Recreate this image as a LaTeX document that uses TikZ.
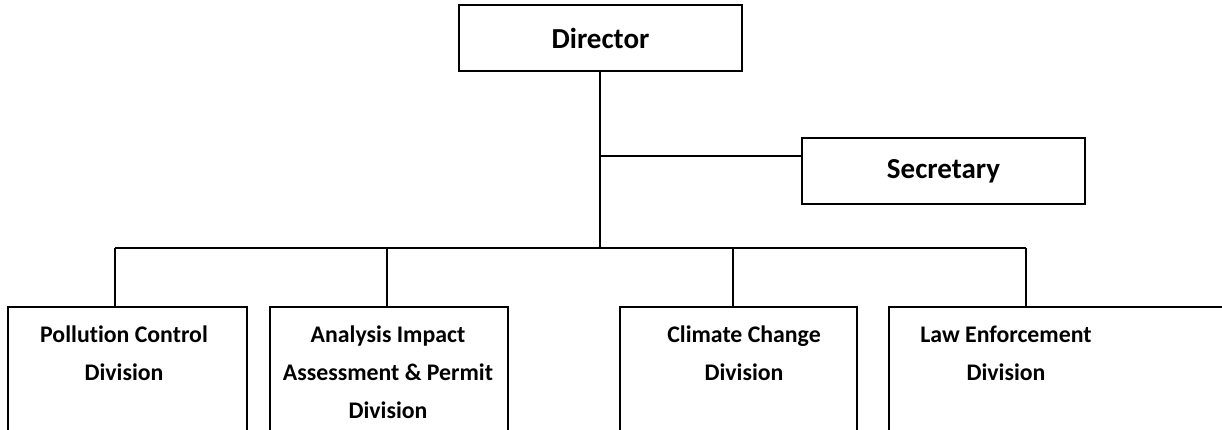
\documentclass[tikz,border=0pt]{standalone}
\usepackage{fontspec}
\setmainfont{Carlito}[Ligatures=NoCommon]
\usetikzlibrary{calc}
\tikzset{
  box/.style={draw=black, line width=2pt, rectangle, inner sep=0pt, fill=white},
  lbl/.style={align=center, inner sep=0pt, font=\bfseries\fontsize{29}{38}\selectfont},
  dlbl/.style={align=center, inner sep=0pt, font=\bfseries\fontsize{23.8}{38}\selectfont},
  conn/.style={draw=black, line width=2pt}
}
\begin{document}
\begin{tikzpicture}[x=1pt,y=-1pt]
\useasboundingbox (0,0) rectangle (1222,430);
\clip (0,0) rectangle (1222,430);
% top boxes
\node[box, lbl, minimum width=283pt, minimum height=66pt] (dir) at (600.5,38) {Director};
\node[box, lbl, minimum width=283pt, minimum height=66pt] (sec) at (943.5,171) {Secretary};
% division boxes (bottom cut off by the page edge)
\node[box, minimum width=239pt, minimum height=160pt, anchor=north west] (b1) at (7,306) {};
\node[box, minimum width=238pt, minimum height=160pt, anchor=north west] (b2) at (269,306) {};
\node[box, minimum width=237pt, minimum height=160pt, anchor=north west] (b3) at (619,306) {};
\node[box, minimum width=360pt, minimum height=160pt, anchor=north west] (b4) at (888,306) {};
% labels (base anchor = baseline of the last line)
\node[dlbl, anchor=base] (t1) at (124,380) {Pollution Control\\Division};
\node[dlbl, anchor=base] (t2) at (388,418) {Analysis Impact\\Assessment \& Permit\\Division};
\node[dlbl, anchor=base] (t3) at (744,380) {Climate Change\\Division};
\node[dlbl, anchor=base] (t4) at (1006,380) {Law Enforcement\\Division};
% connectors
\coordinate (bus) at (600,248);
\coordinate (junc) at (600,156);
\coordinate (bl) at (115,248);
\coordinate (br) at (1026,248);
\draw[conn] (dir.south -| bus) -- (bus);
\draw[conn] (junc) -- (junc -| sec.west);
\draw[conn] (bl) -- (br);
\draw[conn] (bl) -- (bl |- b1.north);
\draw[conn] (387,248) coordinate (d2) -- (d2 |- b2.north);
\draw[conn] (733,248) coordinate (d3) -- (d3 |- b3.north);
\draw[conn] (br) -- (br |- b4.north);
\end{tikzpicture}
\end{document}
